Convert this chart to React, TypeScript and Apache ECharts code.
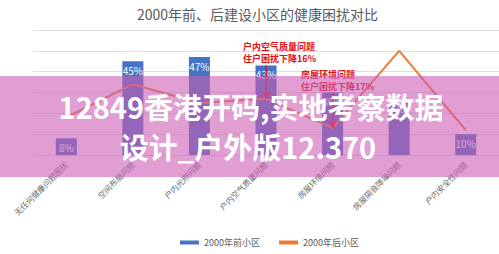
import React, { useEffect, useRef } from "react";
import * as echarts from "echarts";

const chartTitle = "2000年前、后建设小区的健康困扰对比";
const categories = [
  "无任何健康问题困扰",
  "空间布局问题",
  "户内光照问题",
  "户内空气质量问题",
  "房屋环境问题",
  "房屋隔音降噪问题",
  "户内安全性问题",
];
const seriesNames = ["2000年前小区", "2000年后小区"];
const beforeValues = [8, 45, 47, 43, 30, 25, 10];
const afterValues = [18, 34, 25, 27, 13, 50, 12];
const yMin = 0;
const yMax = 60;
const yInterval = 10;

const arrowCategories = ["户内空气质量问题", "房屋环境问题"];
const arrowFrom = [43, 30];
const arrowTo = [27, 13];
const noteLines = [
  ["户内空气质量问题", "住户困扰下降16%"],
  ["房屋环境问题", "住户困扰下降17%"],
];
const watermarkLines = ["12849香港开码,实地考察数据", "设计_户外版12.370"];

const CJK = '"Noto Sans CJK SC", "Noto Sans", sans-serif';

export default function App() {
  const ref = useRef<HTMLDivElement>(null);

  useEffect(() => {
    document.body.style.margin = "0";
    if (!ref.current) return;
    const chart = echarts.init(ref.current, undefined, { renderer: "svg" });

    const markData = arrowCategories.map((c, i) => [
      { coord: [c, arrowFrom[i]] },
      { coord: [c, arrowTo[i]] },
    ]);

    const noteStyle = {
      fill: "#e01010",
      fontSize: 9,
      fontWeight: "bold",
      lineHeight: 12,
      fontFamily: CJK,
    };
    const wmStyle = {
      fill: "#ffffff",
      fontSize: 29,
      fontWeight: "bold",
      fontFamily: CJK,
      textAlign: "center",
      textVerticalAlign: "middle",
    };

    chart.setOption({
      animation: false,
      backgroundColor: "#ffffff",
      title: {
        text: chartTitle,
        left: 132,
        top: 2,
        textStyle: { fontSize: 14, color: "#595959", fontWeight: "normal", fontFamily: CJK },
      },
      grid: { left: 33, top: 30, width: 478, height: 125, containLabel: false },
      legend: {
        data: seriesNames,
        left: 175,
        bottom: 2,
        icon: "rect",
        itemWidth: 19,
        itemHeight: 4,
        itemGap: 19,
        textStyle: { fontSize: 9, color: "#595959", fontFamily: CJK },
      },
      xAxis: {
        type: "category",
        data: categories,
        axisLine: { lineStyle: { color: "#d9d9d9" } },
        axisTick: { show: false },
        axisLabel: {
          interval: 0,
          rotate: 45,
          fontSize: 8,
          color: "#6a6a6a",
          fontFamily: CJK,
          margin: 8,
        },
      },
      yAxis: {
        type: "value",
        min: yMin,
        max: yMax,
        interval: yInterval,
        axisLabel: { show: false },
        axisLine: { show: false },
        axisTick: { show: false },
        splitLine: { lineStyle: { color: "#dedede" } },
      },
      series: [
        {
          name: seriesNames[0],
          type: "bar",
          data: beforeValues,
          barWidth: 21,
          itemStyle: { color: "#4472C4" },
          label: {
            show: true,
            position: "insideTop",
            distance: 4,
            formatter: "{c}%",
            color: "#ffffff",
            fontSize: 10,
            fontFamily: CJK,
          },
          markLine: {
            silent: true,
            symbol: ["none", "arrow"],
            symbolSize: 7,
            label: { show: false },
            lineStyle: { color: "#e01010", width: 1.5, type: "solid" },
            data: markData,
          },
          z: 2,
        },
        {
          name: seriesNames[1],
          type: "line",
          data: afterValues,
          symbol: "none",
          lineStyle: { color: "#ED7D31", width: 2 },
          itemStyle: { color: "#ED7D31" },
          label: {
            show: true,
            position: "inside",
            formatter: "{c}%",
            color: "#595959",
            fontSize: 10,
            fontFamily: CJK,
          },
          z: 3,
        },
      ],
      graphic: [
        {
          type: "text",
          x: 243,
          y: 40,
          z: 50,
          style: { ...noteStyle, text: noteLines[0].join("\n") },
        },
        {
          type: "text",
          x: 301,
          y: 68,
          z: 50,
          style: { ...noteStyle, text: noteLines[1].join("\n") },
        },
        {
          type: "rect",
          z: 100,
          shape: { x: 0, y: 76, width: 499, height: 101 },
          style: { fill: "rgba(203,93,180,0.6)" },
        },
        {
          type: "text",
          x: 251,
          y: 106,
          z: 101,
          style: { ...wmStyle, text: watermarkLines[0] },
        },
        {
          type: "text",
          x: 248,
          y: 146,
          z: 101,
          style: { ...wmStyle, text: watermarkLines[1] },
        },
      ],
    });

    return () => chart.dispose();
  }, []);

  return <div ref={ref} style={{ width: 499, height: 254 }} />;
}
